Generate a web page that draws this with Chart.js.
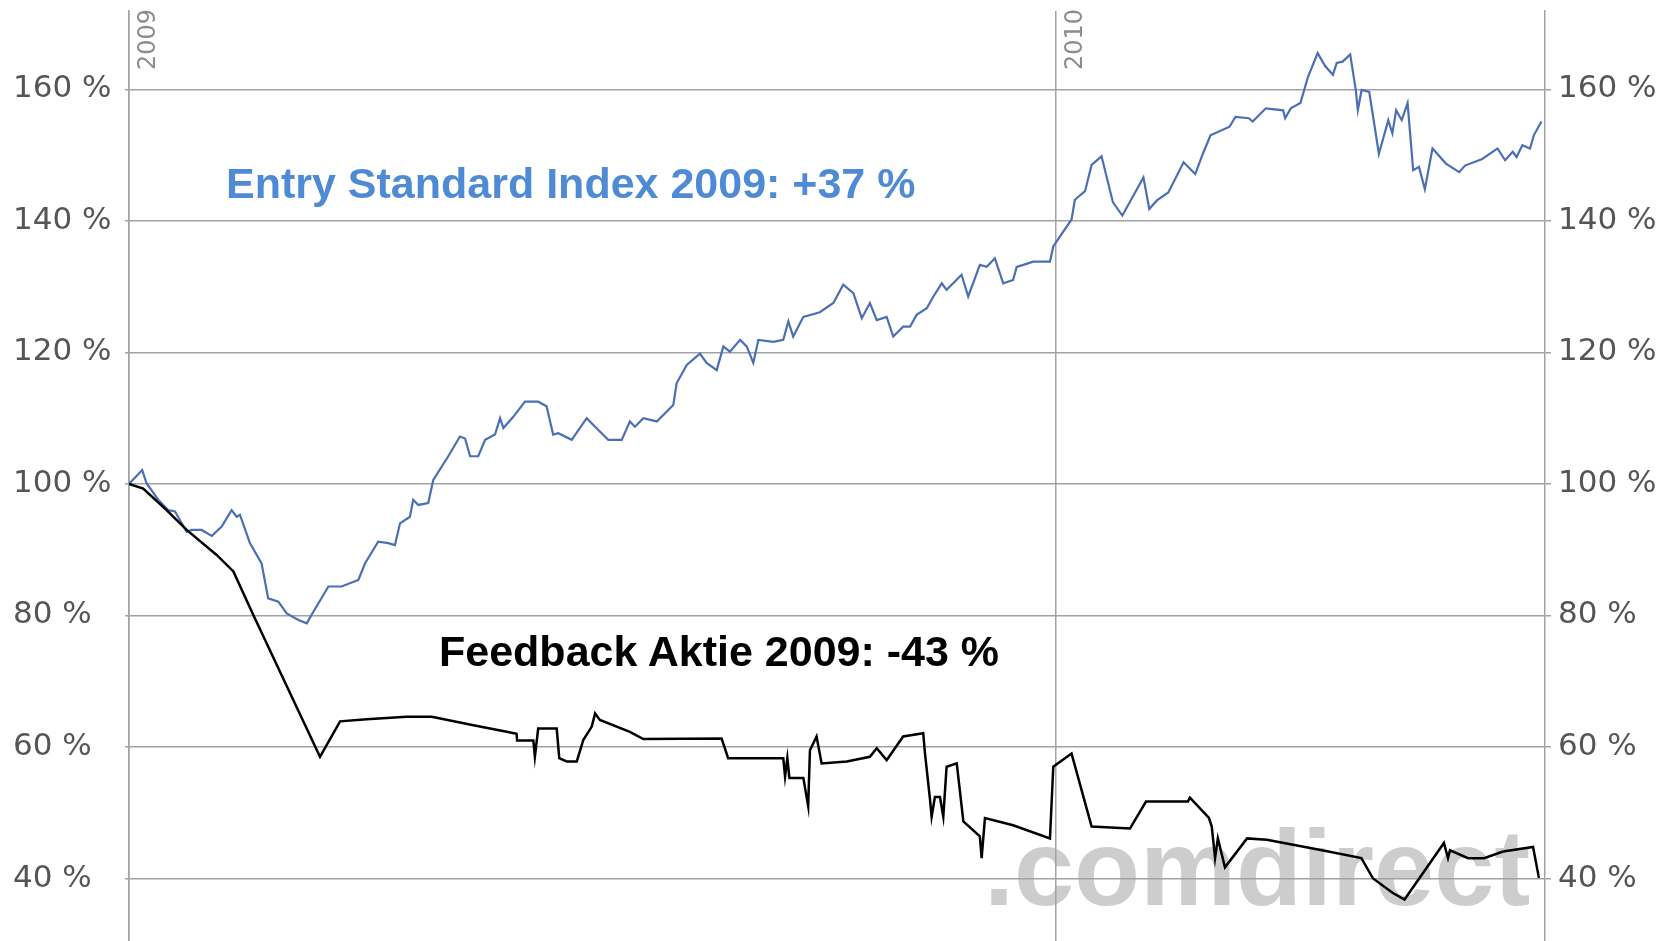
<!DOCTYPE html>
<html>
<head>
<meta charset="utf-8">
<script src="https://cdn.jsdelivr.net/npm/chart.js@4.4.1/dist/chart.umd.min.js"></script>
<style>
    html, body { margin: 0; padding: 0; background: #fff; }
    #wrap { position: relative; width: 1668px; height: 941px; overflow: hidden; }
    #perfChart { position: absolute; left: 0; top: 0; z-index: 2; }
    .note { position: absolute; z-index: 3; font-family: "Liberation Sans", Arial, sans-serif; font-weight: bold; font-size: 43px; line-height: 1; white-space: nowrap; }
    #esNote { left: 226px; top: 162px; color: #4f8bd5; }
    #fbNote { left: 439px; top: 630px; color: #000; }
    #mark { position: absolute; z-index: 1; left: 984px; top: 814px; font-family: "Liberation Sans", Arial, sans-serif; font-weight: bold; font-size: 108px; line-height: 1; color: #cdcdcd; white-space: nowrap; }
</style>
</head>
<body>
<div id="wrap">
    <div id="mark">.comdirect</div>
    <canvas id="perfChart" width="1668" height="941"></canvas>
    <div class="note" id="esNote">Entry Standard Index 2009: +37 %</div>
    <div class="note" id="fbNote">Feedback Aktie 2009: -43 %</div>
</div>
<script>
// days since 1 Jan 2009, performance in % (start = 100)
var esDays = [0, 5.2, 6.9, 11.5, 15.5, 18.1, 22.7, 24.7, 28.6, 32.6,
    36.5, 40.4, 42.4, 43.7, 47.6, 52.2, 54.8, 58.8, 62.1, 66.7,
    70.0, 71.9, 78.5, 83.7, 90.3, 92.9, 98.1, 102.1, 104.7, 106.7,
    110.6, 111.9, 113.9, 117.8, 119.8, 125.7, 130.3, 132.3, 134.3, 137.5,
    140.2, 144.1, 146.1, 147.4, 151.3, 155.9, 161.1, 164.4, 167.0, 169.0,
    174.3, 180.2, 183.5, 188.7, 194.0, 197.2, 199.2, 202.5, 207.8, 214.3,
    215.6, 219.6, 224.8, 227.4, 231.4, 234.0, 236.6, 240.6, 243.2, 245.8,
    247.8, 253.7, 257.6, 259.6, 261.5, 265.5, 272.0, 277.3, 281.2, 285.2,
    288.5, 291.7, 294.4, 298.3, 300.9, 304.8, 307.5, 310.1, 314.1, 316.7,
    320.0, 321.9, 327.8, 330.4, 335.0, 337.7, 340.9, 344.2, 348.1, 349.5,
    352.1, 356.0, 362.6, 363.9, 366.5, 371.1, 372.4, 376.4, 379.0, 382.9,
    387.4, 391.1, 399.4, 401.7, 404.7, 409.2, 415.2, 419.8, 422.8, 425.8,
    433.3, 435.6, 440.9, 442.4, 447.6, 454.4, 455.2, 457.4, 461.2, 464.2,
    468.0, 471.0, 474.0, 475.5, 477.8, 480.8, 483.0, 483.8, 485.3, 488.3,
    492.1, 495.8, 497.4, 498.9, 501.1, 503.4, 505.6, 507.9, 510.2, 513.2,
    518.5, 523.7, 526.0, 532.8, 538.8, 541.8, 544.8, 546.3, 548.6, 551.6,
    553.1, 556.1];
var esValues = [100.0, 102.1, 100.1, 97.6, 96.0, 95.8, 92.7, 93.0, 93.0, 92.1,
    93.5, 96.0, 95.0, 95.3, 91.0, 87.9, 82.6, 82.1, 80.3, 79.3,
    78.8, 80.1, 84.4, 84.4, 85.4, 87.9, 91.2, 91.0, 90.7, 94.0,
    95.0, 97.6, 96.8, 97.1, 100.6, 104.2, 107.2, 106.9, 104.2, 104.2,
    106.7, 107.5, 110.0, 108.5, 110.2, 112.5, 112.5, 111.8, 107.5, 107.7,
    106.7, 110.0, 108.7, 106.7, 106.7, 109.5, 108.7, 110.0, 109.5, 112.0,
    115.3, 118.1, 119.8, 118.4, 117.3, 120.9, 120.1, 121.9, 120.9, 118.4,
    121.9, 121.6, 121.9, 124.7, 122.4, 125.4, 126.1, 127.5, 130.3, 129.0,
    125.2, 127.5, 124.9, 125.4, 122.4, 123.9, 123.9, 125.7, 126.7, 128.5,
    130.5, 129.5, 131.8, 128.5, 133.3, 133.0, 134.3, 130.5, 131.0, 133.0,
    133.3, 133.8, 133.8, 136.1, 137.6, 140.2, 143.2, 144.5, 148.5, 149.8,
    142.8, 140.8, 146.6, 141.8, 143.1, 144.3, 148.9, 147.1, 150.2, 153.0,
    154.3, 155.8, 155.6, 155.1, 157.1, 156.8, 155.6, 157.1, 157.9, 161.9,
    165.5, 163.5, 162.2, 164.0, 164.2, 165.3, 159.9, 156.8, 159.9, 159.6,
    150.2, 155.3, 153.3, 156.8, 155.3, 157.9, 147.7, 148.2, 144.8, 151.0,
    148.7, 147.4, 148.4, 149.4, 151.0, 149.2, 150.5, 149.7, 151.5, 151.0,
    153.0, 155.1];

var fbDays = [0, 5.6, 14.8, 22.7, 34.5, 41.1, 48.9, 75.2, 83.1, 93.6,
    109.3, 119.2, 135.6, 148.7, 152.6, 152.8, 159.2, 159.8, 161.1, 168.4,
    169.4, 172.3, 176.3, 178.9, 182.2, 183.5, 185.4, 197.2, 202.5, 233.3,
    235.9, 257.6, 258.3, 259.2, 260.0, 265.5, 267.4, 268.1, 270.7, 272.7,
    282.6, 291.7, 294.4, 298.3, 304.8, 312.7, 313.4, 315.4, 316.0, 317.3,
    319.3, 320.6, 321.9, 325.9, 328.5, 335.0, 335.7, 337.0, 348.1, 362.6,
    363.9, 371.1, 379.0, 394.1, 400.4, 416.9, 417.7, 425.2, 426.3, 427.6,
    428.7, 431.5, 440.2, 448.0, 469.7, 485.2, 489.8, 497.6, 502.2, 517.7,
    519.3, 520.1, 527.2, 533.5, 541.0, 552.8, 555.1];
var fbValues = [100, 99.3, 96.0, 93.0, 89.2, 86.7, 80.1, 58.5, 63.9, 64.2,
    64.6, 64.6, 63.3, 62.3, 62.0, 61.0, 61.0, 58.5, 62.8, 62.8,
    58.3, 57.8, 57.8, 61.1, 63.1, 65.1, 64.1, 62.3, 61.2, 61.3,
    58.3, 58.3, 55.5, 58.3, 55.3, 55.3, 51.0, 59.5, 61.6, 57.5,
    57.8, 58.5, 59.8, 58.0, 61.6, 62.1, 59.0, 51.9, 49.4, 52.4,
    52.4, 49.4, 57.0, 57.5, 48.7, 46.4, 43.1, 49.2, 48.1, 46.1,
    57.0, 59.0, 47.9, 47.6, 51.7, 51.7, 52.3, 49.2, 47.9, 43.1,
    46.1, 41.7, 46.1, 45.9, 44.3, 43.1, 40.0, 37.8, 36.8, 45.4,
    43.1, 44.3, 43.1, 43.1, 44.1, 44.8, 40.1];

var yTicks = [40, 60, 80, 100, 120, 140, 160];
var yearTicks = [0, 365];
var yearLabels = ['2009', '2010'];

function toPoints(days, values) {
    return days.map(function (d, i) { return { x: d, y: values[i] }; });
}

var gridColor = '#a2a2a2';
var tickFont = { family: '"DejaVu Sans", sans-serif', size: 31 };

// keep the plot area from shrinking for label overhang
function noPad(s) {
    s.paddingTop = 0;
    s.paddingBottom = 0;
    s.paddingLeft = 0;
    s.paddingRight = 0;
}

// year captions drawn vertically next to the year lines
var yearLabelPlugin = {
    id: 'yearLabels',
    afterDraw: function (chart) {
        var ctx = chart.ctx;
        var xScale = chart.scales.x;
        ctx.save();
        ctx.font = '24px "DejaVu Sans", sans-serif';
        ctx.fillStyle = '#8c8c8c';
        ctx.textAlign = 'left';
        ctx.textBaseline = 'alphabetic';
        yearTicks.forEach(function (d, i) {
            var px = xScale.getPixelForValue(d);
            ctx.save();
            ctx.translate(px + 26, chart.chartArea.top + 59);
            ctx.rotate(-Math.PI / 2);
            ctx.fillText(yearLabels[i], 0, 0);
            ctx.restore();
        });
        ctx.restore();
    }
};

var perfChart = new Chart(document.getElementById('perfChart').getContext('2d'), {
    type: 'line',
    data: {
        datasets: [{
            label: 'Feedback Aktie',
            data: toPoints(fbDays, fbValues),
            borderColor: '#000000',
            borderWidth: 2.5,
            pointRadius: 0,
            tension: 0
        }, {
            label: 'Entry Standard Index',
            data: toPoints(esDays, esValues),
            borderColor: '#4b6fb4',
            borderWidth: 2.2,
            pointRadius: 0,
            tension: 0
        }]
    },
    options: {
        responsive: false,
        animation: false,
        devicePixelRatio: 1,
        layout: { padding: { left: 13, top: 11, right: 0, bottom: 0 } },
        plugins: {
            legend: { display: false },
            tooltip: { enabled: false }
        },
        scales: {
            x: {
                type: 'linear',
                min: 0,
                max: 557.5,
                afterBuildTicks: function (s) {
                    s.ticks = yearTicks.map(function (v) { return { value: v }; });
                },
                afterFit: function (s) { s.height = 0; noPad(s); },
                ticks: { display: false },
                grid: { color: gridColor, lineWidth: 1.5, drawTicks: false },
                border: { display: false }
            },
            y: {
                position: 'left',
                min: 30.5,
                max: 171.9,
                afterBuildTicks: function (s) {
                    s.ticks = yTicks.map(function (v) { return { value: v }; });
                },
                afterFit: function (s) { s.width = 116; noPad(s); },
                ticks: {
                    crossAlign: 'far',
                    color: '#555555',
                    font: tickFont,
                    callback: function (v) { return v + ' %'; }
                },
                grid: { color: gridColor, lineWidth: 1.5, tickLength: 4 },
                border: { color: gridColor, width: 1.5 }
            },
            y2: {
                position: 'right',
                min: 30.5,
                max: 171.9,
                afterBuildTicks: function (s) {
                    s.ticks = yTicks.map(function (v) { return { value: v }; });
                },
                afterFit: function (s) { s.width = 123; noPad(s); },
                ticks: {
                    padding: 7,
                    color: '#555555',
                    font: tickFont,
                    callback: function (v) { return v + ' %'; }
                },
                grid: { color: gridColor, lineWidth: 1.5, tickLength: 6, drawOnChartArea: false },
                border: { color: gridColor, width: 1.5 }
            }
        }
    },
    plugins: [yearLabelPlugin]
});
</script>
</body>
</html>
